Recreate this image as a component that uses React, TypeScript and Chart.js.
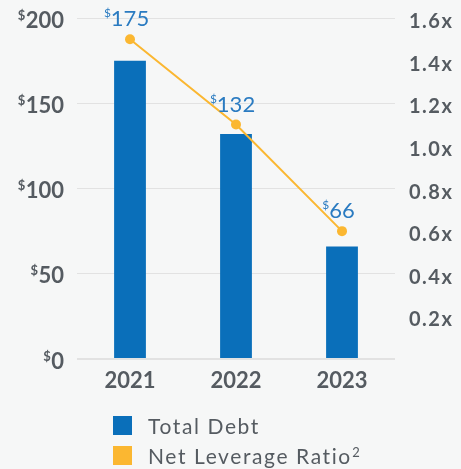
import React, { useEffect, useRef } from "react";
import { Chart, registerables } from "chart.js";

Chart.register(...registerables);

const years = ["2021", "2022", "2023"];
const totalDebt = [175, 132, 66];
const netLeverage = [1.5, 1.1, 0.6];
const leftTicks = [0, 50, 100, 150, 200];
const rightTicks = [0.2, 0.4, 0.6, 0.8, 1.0, 1.2, 1.4, 1.6];
const legendLabels = ["Total Debt", "Net Leverage Ratio"];
const legendSup = ["", "2"];

const BG = "#f6f7f7";
const BLUE = "#0a6fba";
const YELLOW = "#fbb731";
const LABEL_BLUE = "#2a7bc1";
const GREY = "#555b61";
const GRID = "#e2e2e2";
const FONT = "Lato, 'Open Sans', sans-serif";

const textPlugin = {
  id: "customText",
  beforeDraw(chart: any) {
    const ctx = chart.ctx;
    ctx.save();
    ctx.fillStyle = BG;
    ctx.fillRect(0, 0, chart.width, chart.height);
    ctx.restore();
  },
  afterDraw(chart: any) {
    const ctx = chart.ctx;
    const area = chart.chartArea;
    const y = chart.scales.y;
    const y1 = chart.scales.y1;
    const x = chart.scales.x;
    ctx.save();
    ctx.fillStyle = GREY;
    ctx.textBaseline = "alphabetic";

    // left axis ticks with superscript $
    leftTicks.forEach((v) => {
      const py = y.getPixelForValue(v);
      const rx = area.left - 13;
      const txt = String(v);
      ctx.font = `bold 22px ${FONT}`;
      ctx.textAlign = "right";
      ctx.fillText(txt, rx, py + 9.5);
      const w = ctx.measureText(txt).width;
      ctx.font = `bold 13px ${FONT}`;
      ctx.fillText("$", rx - w - 0.5, py + 1.5);
    });

    // right axis ticks
    rightTicks.forEach((v) => {
      const py = y1.getPixelForValue(v);
      ctx.font = `bold 20px ${FONT}`;
      ctx.textAlign = "left";
      (ctx as any).letterSpacing = "1.5px";
      ctx.fillText(`${v.toFixed(1)}x`, area.right + 14, py + 10);
      (ctx as any).letterSpacing = "0px";
    });

    // x labels
    years.forEach((lab, i) => {
      const px = x.getPixelForValue(i);
      ctx.font = `bold 22px ${FONT}`;
      ctx.textAlign = "center";
      ctx.fillText(lab, px, area.bottom + 29);
    });

    // value labels above line points
    const meta = chart.getDatasetMeta(1);
    meta.data.forEach((pt: any, i: number) => {
      const txt = String(totalDebt[i]);
      ctx.fillStyle = LABEL_BLUE;
      ctx.font = `22px ${FONT}`;
      ctx.textAlign = "center";
      const base = pt.y - 13;
      ctx.fillText(txt, pt.x, base);
      const w = ctx.measureText(txt).width;
      ctx.font = `12px ${FONT}`;
      ctx.textAlign = "right";
      ctx.fillText("$", pt.x - w / 2, base - 9);
    });

    // legend
    const colors = [BLUE, YELLOW];
    legendLabels.forEach((lab, i) => {
      const top = area.bottom + 57 + i * 30;
      ctx.fillStyle = colors[i];
      ctx.fillRect(113, top, 19, 19);
      ctx.fillStyle = GREY;
      ctx.font = `21px ${FONT}`;
      ctx.textAlign = "left";
      (ctx as any).letterSpacing = "1.6px";
      ctx.fillText(lab, 148, top + 18);
      const w = ctx.measureText(lab).width;
      (ctx as any).letterSpacing = "0px";
      if (legendSup[i]) {
        ctx.font = `13px ${FONT}`;
        ctx.fillText(legendSup[i], 148 + w + 0.5, top + 11);
      }
    });
    ctx.restore();
  },
};

export default function App() {
  const ref = useRef<HTMLCanvasElement | null>(null);
  useEffect(() => {
    document.body.style.margin = "0";
    document.body.style.background = BG;
    if (!ref.current) return;
    const chart = new Chart(ref.current, {
      type: "bar",
      data: {
        labels: years,
        datasets: [
          {
            type: "bar",
            label: legendLabels[0],
            data: totalDebt,
            backgroundColor: BLUE,
            barPercentage: 0.3,
            categoryPercentage: 1,
            yAxisID: "y",
            order: 2,
          },
          {
            type: "line",
            label: legendLabels[1],
            data: netLeverage,
            borderColor: YELLOW,
            backgroundColor: YELLOW,
            borderWidth: 2,
            pointRadius: 5,
            pointBackgroundColor: YELLOW,
            pointBorderWidth: 0,
            yAxisID: "y1",
            order: 1,
          },
        ] as any,
      },
      options: {
        animation: false,
        responsive: false,
        devicePixelRatio: 1,
        layout: { padding: { top: 18, bottom: 70, left: 0, right: 0 } },
        plugins: { legend: { display: false }, tooltip: { enabled: false } },
        scales: {
          x: {
            grid: { display: false },
            border: { display: false },
            ticks: { display: false },
            afterFit: (s: any) => {
              s.height = 40;
            },
          },
          y: {
            position: "left",
            min: 0,
            max: 200,
            ticks: { display: false, stepSize: 50 },
            border: { display: false },
            grid: {
              color: GRID,
              lineWidth: (c: any) => (c.tick && c.tick.value === 0 ? 2 : 1),
              drawTicks: false,
            },
            afterFit: (s: any) => {
              s.width = 77;
            },
          },
          y1: {
            position: "right",
            min: 0,
            max: 1.6,
            ticks: { display: false, stepSize: 0.2 },
            border: { display: false },
            grid: { display: false },
            afterFit: (s: any) => {
              s.width = 66;
            },
          },
        },
      } as any,
      plugins: [textPlugin],
    });
    return () => chart.destroy();
  }, []);
  return (
    <canvas
      ref={ref}
      width={461}
      height={469}
      style={{ display: "block", width: 461, height: 469 }}
    />
  );
}
